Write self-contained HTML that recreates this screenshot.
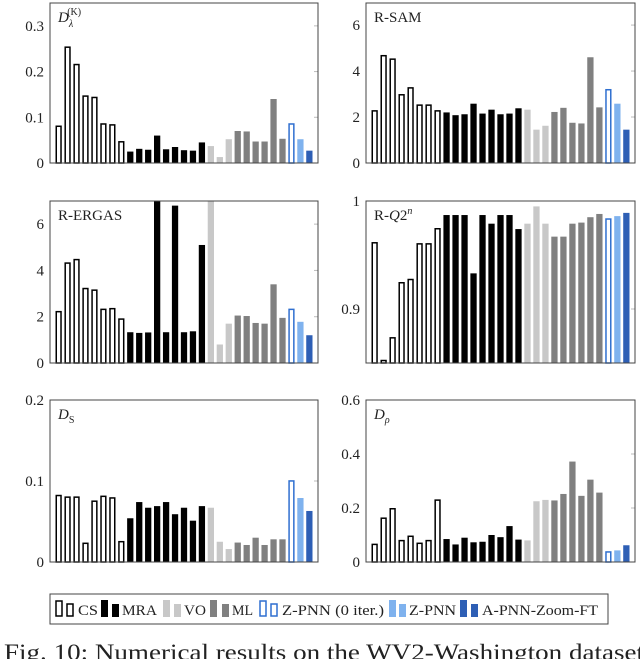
<!DOCTYPE html>
<html><head><meta charset="utf-8"><style>
html,body{margin:0;padding:0;background:#fff;}
svg{display:block;font-family:"Liberation Serif",serif;}
</style></head><body>
<svg id="fig" width="640" height="659" viewBox="0 0 640 659">
</svg>
<script>
const groups = ["CS","CS","CS","CS","CS","CS","CS","CS","MRA","MRA","MRA","MRA","MRA","MRA","MRA","MRA","MRA","VO","VO","VO","ML","ML","ML","ML","ML","ML","ZPNN0","ZPNN","APNN"];
const dLambda = [0.082,0.255,0.217,0.148,0.145,0.087,0.085,0.048,0.025,0.031,0.029,0.060,0.030,0.035,0.028,0.027,0.045,0.037,0.013,0.052,0.070,0.069,0.047,0.047,0.140,0.053,0.087,0.052,0.027];
const rSam = [2.3,4.7,4.55,3.0,3.3,2.55,2.55,2.3,2.2,2.08,2.12,2.58,2.15,2.32,2.12,2.15,2.38,2.32,1.45,1.62,2.22,2.4,1.75,1.72,4.6,2.42,3.22,2.58,1.45];
const rErgas = [2.25,4.35,4.5,3.25,3.18,2.35,2.38,1.93,1.33,1.3,1.32,7.5,1.33,6.8,1.33,1.37,5.1,7.5,0.8,1.7,2.05,2.03,1.73,1.7,3.4,1.95,2.35,1.78,1.2];
const rQ2n = [0.962,0.853,0.874,0.925,0.928,0.961,0.961,0.975,0.987,0.987,0.987,0.933,0.987,0.979,0.987,0.987,0.974,0.979,0.995,0.979,0.967,0.967,0.979,0.980,0.985,0.988,0.984,0.986,0.989];
const dS = [0.083,0.081,0.081,0.024,0.076,0.082,0.080,0.026,0.054,0.074,0.067,0.069,0.074,0.059,0.067,0.051,0.069,0.067,0.025,0.016,0.024,0.021,0.030,0.021,0.028,0.028,0.101,0.079,0.063];
const dRho = [0.068,0.165,0.200,0.082,0.098,0.072,0.082,0.232,0.085,0.065,0.090,0.073,0.075,0.100,0.092,0.133,0.083,0.080,0.225,0.230,0.228,0.252,0.372,0.245,0.305,0.257,0.040,0.043,0.062];
const ticksA = [0,0.1,0.2,0.3];
const ticksB = [0,2,4,6];
const ticksQ = [0.9,1];
const ticksS = [0,0.1,0.2];
const ticksR = [0,0.2,0.4,0.6];

const NS="http://www.w3.org/2000/svg";
const svg=document.getElementById('fig');
const style={CS:{f:"#fff",s:"#000"},MRA:{f:"#000",s:null},VO:{f:"#c8c8c8",s:null},ML:{f:"#808080",s:null},ZPNN0:{f:"#fff",s:"#2f6fd0"},ZPNN:{f:"#7fb2ee",s:null},APNN:{f:"#2e5fb5",s:null}};
function mk(t,a){const e=document.createElementNS(NS,t);for(const k in a)e.setAttribute(k,a[k]);return e;}

const panels=[
 {name:"d-lambda",x0:50,x1:318,y0:3,y1:163,min:0,max:0.35,vals:dLambda,ticks:ticksA},
 {name:"r-sam",x0:366,x1:635,y0:3,y1:163,min:0,max:6.96,vals:rSam,ticks:ticksB},
 {name:"r-ergas",x0:50,x1:318,y0:201,y1:363,min:0,max:7,vals:rErgas,ticks:ticksB},
 {name:"r-q2n",x0:366,x1:635,y0:201,y1:363,min:0.85,max:1,vals:rQ2n,ticks:ticksQ},
 {name:"d-s",x0:50,x1:318,y0:400,y1:562,min:0,max:0.2,vals:dS,ticks:ticksS},
 {name:"d-rho",x0:366,x1:635,y0:400,y1:562,min:0,max:0.6,vals:dRho,ticks:ticksR}
];
const titles=[
 '<tspan font-style="italic">D</tspan><tspan font-size="10" dy="5" font-style="italic">λ</tspan><tspan font-size="10" dy="-12" dx="-6">(K)</tspan>',
 'R-SAM','R-ERGAS',
 'R-<tspan font-style="italic">Q</tspan>2<tspan font-size="10" dy="-6" font-style="italic">n</tspan>',
 '<tspan font-style="italic">D</tspan><tspan font-size="10" dy="4">S</tspan>',
 '<tspan font-style="italic">D</tspan><tspan font-size="10" dy="4" font-style="italic">ρ</tspan>'
];
panels.forEach((p,pi)=>{
  const g=mk('g',{});
  
  
  svg.appendChild(g);
  const y=v=>p.y1-(Math.min(Math.max(v,p.min),p.max)-p.min)/(p.max-p.min)*(p.y1-p.y0);
  const step=(p.x1-p.x0-11)/(28.7);
  const bw=step*0.7;
  p.ticks.forEach(t=>{
    const ty=y(t);
    const l=mk('line',{x1:p.x1-4,x2:p.x1,y1:ty,y2:ty,stroke:"#bbb","stroke-width":1});
    
    
    g.appendChild(l);
    const tx=mk('text',{x:p.x0-6,y:ty+5,"text-anchor":"end","font-size":15,fill:"#222"});
    
    
    tx.textContent=String(t);
    g.appendChild(tx);
  });
  p.vals.forEach((v,i)=>{
    const st=style[groups[i]];
    const bx=p.x0+5.5+i*step;
    const top=y(v);
    const r=mk('rect',{x:st.s?bx+0.75:bx,y:st.s?top+0.75:top,width:st.s?bw-1.5:bw,height:Math.max(0,p.y1-top-(st.s?0.75:0)),fill:st.f});
    if(st.s){r.setAttribute('stroke',st.s);r.setAttribute('stroke-width',1.5);}
    
    
    g.appendChild(r);
  });
  const fr=mk('rect',{x:p.x0,y:p.y0,width:p.x1-p.x0,height:p.y1-p.y0,fill:"none",stroke:"#444","stroke-width":1});
  
  
  g.appendChild(fr);
  const ti=mk('text',{x:p.x0+8,y:p.y0+19,"font-size":15,fill:"#222"});
  ti.innerHTML=titles[pi];
  
  
  g.appendChild(ti);
});
</script>
<svg width="640" height="659" style="position:absolute;left:0;top:0">
 <g font-family="Liberation Serif,serif" font-size="15" fill="#222">
  <rect x="50" y="594" width="558" height="30" fill="#fff" stroke="#444" stroke-width="1"/>
  <g>
   <rect x="56" y="601" width="6" height="15" fill="#fff" stroke="#000" stroke-width="1.5"/>
   <rect x="67" y="604" width="6" height="12" fill="#fff" stroke="#000" stroke-width="1.5"/>
   <text x="78" y="615" textLength="20" lengthAdjust="spacingAndGlyphs">CS</text></g>
  <g>
   <rect x="101" y="600" width="7" height="17" fill="#000"/><rect x="112" y="604" width="7" height="13" fill="#000"/>
   <text x="122" y="615" textLength="35" lengthAdjust="spacingAndGlyphs">MRA</text></g>
  <g>
   <rect x="163" y="600" width="7" height="17" fill="#c8c8c8"/><rect x="174" y="604" width="7" height="13" fill="#c8c8c8"/>
   <text x="184" y="615" textLength="22" lengthAdjust="spacingAndGlyphs">VO</text></g>
  <g>
   <rect x="210" y="600" width="7" height="17" fill="#808080"/><rect x="222" y="604" width="7" height="13" fill="#808080"/>
   <text x="232" y="615" textLength="21" lengthAdjust="spacingAndGlyphs">ML</text></g>
  <g>
   <rect x="260" y="601" width="6" height="15" fill="#fff" stroke="#2f6fd0" stroke-width="1.5"/>
   <rect x="271" y="604" width="6" height="12" fill="#fff" stroke="#2f6fd0" stroke-width="1.5"/>
   <text x="282" y="615" textLength="102" lengthAdjust="spacingAndGlyphs">Z-PNN (0 iter.)</text></g>
  <g>
   <rect x="389" y="600" width="7" height="17" fill="#7fb2ee"/><rect x="399" y="604" width="7" height="13" fill="#7fb2ee"/>
   <text x="409" y="615" textLength="47" lengthAdjust="spacingAndGlyphs">Z-PNN</text></g>
  <g>
   <rect x="460" y="600" width="7" height="17" fill="#2e5fb5"/><rect x="471" y="604" width="7" height="13" fill="#2e5fb5"/>
   <text x="482" y="615" textLength="116" lengthAdjust="spacingAndGlyphs">A-PNN-Zoom-FT</text></g>
 </g>
 <text x="4" y="660" font-family="Liberation Serif,serif" font-size="23" fill="#222" textLength="640" lengthAdjust="spacingAndGlyphs">Fig. 10: Numerical results on the WV2-Washington dataset</text>
</svg>
</body></html>
